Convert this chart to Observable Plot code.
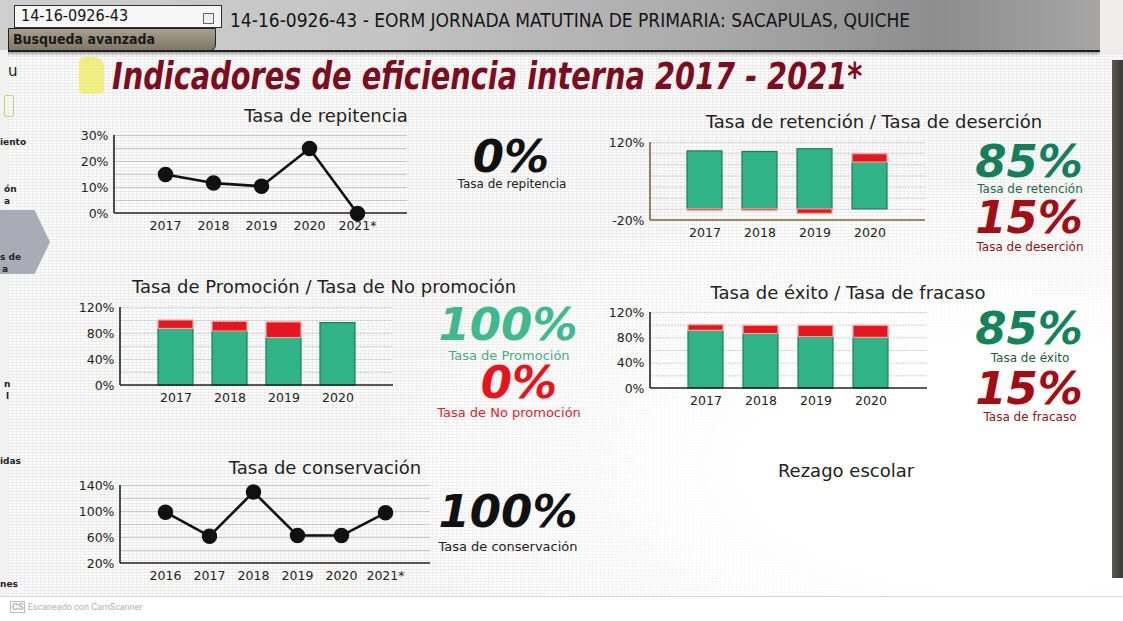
<!DOCTYPE html>
<html><head><meta charset="utf-8">
<script src="https://cdn.jsdelivr.net/npm/d3@7"></script>
<script src="https://cdn.jsdelivr.net/npm/@observablehq/plot@0.6"></script>
<style>
body{margin:0;background:#fff;}
#page{position:relative;width:1123px;height:621px;overflow:hidden;background:#fbfbfb;font-family:"DejaVu Sans",Verdana,sans-serif;}
.abs{position:absolute;}
.c{position:absolute;transform:translate(-50%,-50%);white-space:nowrap;line-height:1;}
.l{position:absolute;white-space:nowrap;line-height:1;}
.plot{position:absolute;}
</style></head><body><div id="page"></div>
<script>
// ---------- data ----------
const repYears = ["2017","2018","2019","2020","2021*"];
const repValues = [15, 11.7, 10.5, 25, 0];
const repTicks = [0, 10, 20, 30];
const repGrid = [5, 10, 15, 20, 25, 30];

const barYears = ["2017","2018","2019","2020"];
const retRetencion = [104, 103, 108, 84];
const retDesercion = [-3, -3, -8, 15];
const retTicks = [-20, 120];
const retGrid = [0, 20, 40, 60, 80, 100, 120];

const proPromocion = [87, 83, 73, 96];
const proNoPromocion = [13, 15, 24, 0];
const exiExito = [91, 86, 81, 80];
const exiFracaso = [9, 13, 18, 19];
const barTicks = [0, 40, 80, 120];
const barGrid = [20, 40, 60, 80, 100, 120];

const conYears = ["2016","2017","2018","2019","2020","2021*"];
const conValues = [99, 62, 130, 63, 63, 98];
const conTicks = [20, 60, 100, 140];
const conGrid = [40, 60, 80, 100, 120, 140];

// ---------- helpers ----------
const page = document.getElementById("page");
function el(cls, html, css){ const d=document.createElement("div"); d.className=cls; d.innerHTML=html; Object.assign(d.style, css); page.appendChild(d); return d; }
function place(svg, left, top){ svg.classList.add("plot"); svg.style.left=left+"px"; svg.style.top=top+"px"; page.appendChild(svg); }
function frameLines(color){
  return (index, scales, values, dims) => {
    const g = d3.create("svg:g").attr("stroke", color).attr("stroke-width", 1.6);
    const b = dims.height - dims.marginBottom;
    g.append("line").attr("x1", dims.marginLeft).attr("x2", dims.marginLeft).attr("y1", dims.marginTop).attr("y2", b);
    g.append("line").attr("x1", dims.marginLeft).attr("x2", dims.width - dims.marginRight).attr("y1", b).attr("y2", b);
    return g.node();
  };
}
const baseStyle = {fontFamily:"'DejaVu Sans', Verdana, sans-serif", fontSize:"12.5px", color:"#222", background:"transparent", overflow:"visible"};
const green = "#2fb387", greenEdge = "#1f7d5d", red = "#e5161d", redEdge = "#f3a3a3";

// ---------- page decoration ----------
page.style.backgroundImage = "radial-gradient(ellipse at 90% 75%, #ffffff 0%, #ffffff 18%, rgba(255,255,255,0) 45%), repeating-linear-gradient(0deg, rgba(0,0,0,0.05) 0 1px, transparent 1px 3px), repeating-linear-gradient(90deg, rgba(0,0,0,0.035) 0 1px, transparent 1px 4px)";
el("abs","",{left:"0",top:"0",width:"1100px",height:"50px",background:"linear-gradient(to right,#cfcfcf 0%,#c4c4c4 35%,#a9a9a9 65%,#8d8d8d 85%,#a6a6a6 100%)",borderBottom:"2px solid #1e1e1e",boxShadow:"0 2px 3px rgba(0,0,0,0.35)"});
el("abs","",{left:"1100px",top:"0",width:"23px",height:"55px",background:"#f0ecec"});
el("l","14-16-0926-43",{left:"14px",top:"5px",width:"200px",height:"19px",padding:"2px 0 0 6px",background:"#f6f6f6",border:"1px solid #333",fontFamily:"'DejaVu Sans Condensed','DejaVu Sans',sans-serif",fontSize:"16px",color:"#111",boxSizing:"content-box"});
el("abs","",{left:"203px",top:"13px",width:"9px",height:"9px",border:"1px solid #666",background:"#eee"});
el("l","Busqueda avanzada",{left:"8px",top:"28px",width:"202px",height:"18px",padding:"3px 0 0 4px",background:"linear-gradient(#a89f8c,#7f7866)",border:"1px solid #222",borderRadius:"0 0 6px 0",fontFamily:"'DejaVu Sans Condensed','DejaVu Sans',sans-serif",fontSize:"14px",fontWeight:"bold",color:"#1a1a1a"});
el("l","14-16-0926-43 - EORM JORNADA MATUTINA DE PRIMARIA: SACAPULAS, QUICHE",{left:"230px",top:"11px",fontFamily:"'DejaVu Sans Condensed','DejaVu Sans',sans-serif",fontSize:"19px",color:"#151515",transform:"scaleX(1.0)",transformOrigin:"left center"});
el("abs","",{left:"1112px",top:"60px",width:"11px",height:"518px",background:"linear-gradient(to right,#5a5a52,#3a3a34)"});
el("abs","",{left:"0",top:"596px",width:"1123px",height:"25px",background:"#ffffff",borderTop:"1px solid #d8d8d8"});
el("l","<span style='border:1px solid #bbb;padding:0 1px;font-weight:bold'>CS</span> Escaneado con CamScanner",{left:"10px",top:"603px",fontFamily:"Roboto,'DejaVu Sans',sans-serif",fontSize:"9px",color:"#b0b0b0"});
// left sidebar fragments
el("abs","",{left:"0",top:"50px",width:"8px",height:"546px",background:"#f2f2f2"});
el("abs","",{left:"-12px",top:"210px",width:"62px",height:"64px",background:"#a9abb6",clipPath:"polygon(0 0,75% 0,100% 50%,75% 100%,0 100%)"});
const side = [["u",8,64,15],["iento",0,138,9],["ón",4,185,9],["a",4,197,9],["s de",0,253,9],["a",2,265,9],["n",4,380,9],["l",6,392,9],["idas",0,457,9],["nes",0,580,9]];
side.forEach(s=>el("l",s[0],{left:s[1]+"px",top:s[2]+"px",fontSize:s[3]+"px",color:"#222",fontWeight:s[3]<10?"bold":"normal"}));
el("abs","",{left:"4px",top:"95px",width:"8px",height:"20px",border:"1px solid #c9d46a",borderRadius:"2px"});
el("abs","",{left:"79px",top:"57px",width:"25px",height:"37px",background:"rgba(238,236,100,0.8)",borderRadius:"6px 10px 4px 4px"});

// main title
el("l","Indicadores de eficiencia interna 2017 - 2021*",{left:"112px",top:"58px",fontFamily:"'DejaVu Sans Condensed','DejaVu Sans',sans-serif",fontSize:"37px",fontWeight:"bold",fontStyle:"italic",color:"#7d0d1e",transform:"scaleX(0.865)",transformOrigin:"left center"});

// chart titles
const tStyle = {fontSize:"18px",color:"#222"};
el("c","Tasa de repitencia",{left:"326px",top:"116px",...tStyle});
el("c","Tasa de retención / Tasa de deserción",{left:"874px",top:"122px",...tStyle});
el("c","Tasa de Promoción / Tasa de No promoción",{left:"324px",top:"287px",...tStyle});
el("c","Tasa de éxito / Tasa de fracaso",{left:"848px",top:"293px",...tStyle});
el("c","Tasa de conservación",{left:"325px",top:"468px",...tStyle});
el("c","Rezago escolar",{left:"846px",top:"471px",...tStyle});

// big numbers
const big = (txt,x,y,size,color)=>el("c",txt,{left:x+"px",top:y+"px",fontSize:size+"px",fontWeight:"bold",fontStyle:"italic",color,lineHeight:"0.74"});
const small = (txt,x,y,color,size)=>el("c",txt,{left:x+"px",top:y+"px",fontSize:(size||12)+"px",color});
big("0%",511,157,45,"#111"); small("Tasa de repitencia",512,184,"#222");
big("85%",1029,162,45,"#14805a"); small("Tasa de retención",1030,189,"#1d6a4e");
big("15%",1029,218,45,"#a20d16"); small("Tasa de deserción",1030,247,"#8d1317");
big("100%",508,325,45,"#3fb98e"); small("Tasa de Promoción",509,355,"#4aa988",13);
big("0%",519,383,45,"#e8141c"); small("Tasa de No promoción",509,412,"#e0242a",13);
big("85%",1029,329,45,"#13845a"); small("Tasa de éxito",1030,358,"#1e5a44");
big("15%",1029,389,45,"#a30c12"); small("Tasa de fracaso",1030,417,"#8d1317");
big("100%",508,512,45,"#111"); small("Tasa de conservación",508,546,"#222",13);

// ---------- chart 1: repitencia ----------
const rep = repYears.map((y,i)=>({year:y, value:repValues[i]}));
place(Plot.plot({
  width:360, height:115, marginLeft:54, marginRight:13, marginTop:10, marginBottom:27,
  style:baseStyle,
  x:{type:"point", domain:repYears, padding:1, label:null, tickSize:0, tickPadding:8},
  y:{domain:[0,30], ticks:repTicks, tickFormat:d=>d+"%", label:null, tickSize:0, tickPadding:6},
  marks:[
    Plot.ruleY(repGrid, {stroke:"#bdbdbd", strokeWidth:0.8}),
    frameLines("#222"),
    Plot.line(rep, {x:"year", y:"value", stroke:"#111", strokeWidth:2.6}),
    Plot.dot(rep, {x:"year", y:"value", r:7, fill:"#111", stroke:"#111"})
  ]
}), 60, 125);

// ---------- stacked bar helper ----------
function stacked(a, aName, b, bName){
  return barYears.flatMap((y,i)=>[{year:y, type:aName, value:a[i]},{year:y, type:bName, value:b[i]}]);
}
function barChart(data, opts){
  return Plot.plot({
    width:345, height:opts.h, marginLeft:60, marginRight:opts.mr, marginTop:12, marginBottom:opts.mb,
    style:baseStyle,
    color:{type:"identity"},
    x:{type:"band", domain:barYears, paddingInner:0.36, paddingOuter:0.67, label:null, tickSize:0, tickPadding:8},
    y:{domain:opts.domain, ticks:opts.ticks, tickFormat:d=>d+"%", label:null, tickSize:0, tickPadding:opts.tp||6},
    marks:[
      Plot.ruleY(opts.grid, {stroke:"#c4c4c4", strokeWidth:0.8, strokeDasharray:"2,1"}),
      Plot.barY(data, Plot.stackY({x:"year", y:"value", order:null,
        fill:d=>d.type===opts.a?green:red,
        stroke:d=>d.type===opts.a?greenEdge:redEdge, strokeWidth:1.2})),
      frameLines(opts.axis||"#222")
    ]
  });
}

// ---------- chart 2: retención / deserción ----------
const ret = stacked(retRetencion,"ret",retDesercion,"des");
place(barChart(ret,{a:"ret",h:117,mr:10,mb:27,domain:[-20,120],ticks:retTicks,grid:retGrid,axis:"#7a6a3a"}), 590, 130);

// ---------- chart 3: promoción ----------
const pro = stacked(proPromocion,"pro",proNoPromocion,"nop");
place(barChart(pro,{a:"pro",h:117,mr:12,mb:27,domain:[0,120],ticks:barTicks,grid:barGrid}), 60, 295);

// ---------- chart 4: éxito ----------
const exi = stacked(exiExito,"exi",exiFracaso,"fra");
place(barChart(exi,{a:"exi",h:115,mr:8,mb:27,domain:[0,120],ticks:barTicks,grid:barGrid}), 590, 300);

// ---------- chart 5: conservación ----------
const con = conYears.map((y,i)=>({year:y, value:conValues[i]}));
place(Plot.plot({
  width:380, height:115, marginLeft:60, marginRight:10, marginTop:10, marginBottom:27,
  style:baseStyle,
  x:{type:"point", domain:conYears, padding:1, label:null, tickSize:0, tickPadding:8},
  y:{domain:[20,140], ticks:conTicks, tickFormat:d=>d+"%", label:null, tickSize:0, tickPadding:6},
  marks:[
    Plot.ruleY(conGrid, {stroke:"#bdbdbd", strokeWidth:0.8}),
    frameLines("#222"),
    Plot.line(con, {x:"year", y:"value", stroke:"#111", strokeWidth:2.6}),
    Plot.dot(con, {x:"year", y:"value", r:7, fill:"#111", stroke:"#111"})
  ]
}), 60, 475);
</script></body></html>
